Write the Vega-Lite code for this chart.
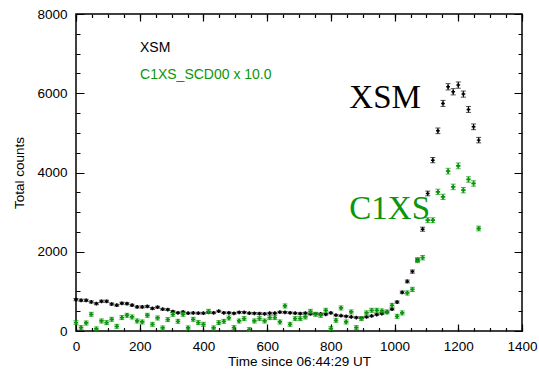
{
  "$schema": "https://vega.github.io/schema/vega-lite/v6.json",
  "width": 446,
  "height": 317,
  "autosize": {"type": "none"},
  "padding": {"left": 76, "top": 14, "right": 17, "bottom": 38},
  "background": "white",
  "config": {
    "view": {"stroke": "black", "strokeWidth": 1.5, "fill": "transparent"},
    "axis": {
      "labelFont": "Liberation Sans",
      "labelFontSize": 13.5,
      "labelColor": "black",
      "titleFont": "Liberation Sans",
      "titleFontSize": 13.5,
      "titleFontWeight": "normal",
      "titleColor": "black",
      "ticks": false,
      "domain": false,
      "gridColor": "black",
      "gridOpacity": 1,
      "gridWidth": 1.2,
      "labelOverlap": false,
      "labelFlush": false,
      "format": "d",
      "zindex": 1
    }
  },
  "data": {
    "values": [
      {"t": 0, "xsm": 792, "xe": 28, "c1xs": 211, "ce": 50},
      {"t": 16, "xsm": 775, "xe": 28, "c1xs": 85, "ce": 50},
      {"t": 32, "xsm": 775, "xe": 28, "c1xs": 203, "ce": 50},
      {"t": 48, "xsm": 733, "xe": 27, "c1xs": 422, "ce": 50},
      {"t": 64, "xsm": 691, "xe": 26, "c1xs": 52, "ce": 50},
      {"t": 80, "xsm": 750, "xe": 27, "c1xs": 253, "ce": 50},
      {"t": 96, "xsm": 750, "xe": 27, "c1xs": 211, "ce": 50},
      {"t": 112, "xsm": 680, "xe": 26, "c1xs": 296, "ce": 50},
      {"t": 128, "xsm": 650, "xe": 25, "c1xs": 119, "ce": 50},
      {"t": 144, "xsm": 700, "xe": 26, "c1xs": 338, "ce": 50},
      {"t": 160, "xsm": 690, "xe": 26, "c1xs": 397, "ce": 50},
      {"t": 176, "xsm": 650, "xe": 25, "c1xs": 354, "ce": 50},
      {"t": 192, "xsm": 607, "xe": 25, "c1xs": 253, "ce": 50},
      {"t": 208, "xsm": 607, "xe": 25, "c1xs": 228, "ce": 50},
      {"t": 224, "xsm": 620, "xe": 25, "c1xs": 397, "ce": 50},
      {"t": 240, "xsm": 570, "xe": 24, "c1xs": 169, "ce": 50},
      {"t": 256, "xsm": 600, "xe": 24, "c1xs": 329, "ce": 50},
      {"t": 272, "xsm": 550, "xe": 23, "c1xs": 77, "ce": 50},
      {"t": 288, "xsm": 540, "xe": 23, "c1xs": 287, "ce": 50},
      {"t": 304, "xsm": 490, "xe": 22, "c1xs": 422, "ce": 50},
      {"t": 320, "xsm": 460, "xe": 21, "c1xs": 245, "ce": 50},
      {"t": 336, "xsm": 480, "xe": 22, "c1xs": 422, "ce": 50},
      {"t": 352, "xsm": 450, "xe": 21, "c1xs": 77, "ce": 50},
      {"t": 368, "xsm": 455, "xe": 21, "c1xs": 296, "ce": 50},
      {"t": 384, "xsm": 450, "xe": 21, "c1xs": 211, "ce": 50},
      {"t": 400, "xsm": 450, "xe": 21, "c1xs": 169, "ce": 50},
      {"t": 416, "xsm": 470, "xe": 22, "c1xs": 497, "ce": 50},
      {"t": 432, "xsm": 460, "xe": 21, "c1xs": 77, "ce": 50},
      {"t": 448, "xsm": 500, "xe": 22, "c1xs": 211, "ce": 50},
      {"t": 464, "xsm": 460, "xe": 21, "c1xs": 245, "ce": 50},
      {"t": 480, "xsm": 460, "xe": 21, "c1xs": 329, "ce": 50},
      {"t": 496, "xsm": 445, "xe": 21, "c1xs": 85, "ce": 50},
      {"t": 512, "xsm": 470, "xe": 22, "c1xs": 253, "ce": 50},
      {"t": 528, "xsm": 470, "xe": 22, "c1xs": 312, "ce": 50},
      {"t": 544, "xsm": 450, "xe": 21, "c1xs": 35, "ce": 50},
      {"t": 560, "xsm": 445, "xe": 21, "c1xs": 253, "ce": 50},
      {"t": 576, "xsm": 440, "xe": 21, "c1xs": 312, "ce": 50},
      {"t": 592, "xsm": 435, "xe": 21, "c1xs": 253, "ce": 50},
      {"t": 608, "xsm": 450, "xe": 21, "c1xs": 338, "ce": 50},
      {"t": 624, "xsm": 450, "xe": 21, "c1xs": 338, "ce": 50},
      {"t": 640, "xsm": 475, "xe": 22, "c1xs": 228, "ce": 50},
      {"t": 656, "xsm": 470, "xe": 22, "c1xs": 632, "ce": 50},
      {"t": 672, "xsm": 460, "xe": 21, "c1xs": 169, "ce": 50},
      {"t": 688, "xsm": 450, "xe": 21, "c1xs": 312, "ce": 50},
      {"t": 704, "xsm": 440, "xe": 21, "c1xs": 312, "ce": 50},
      {"t": 720, "xsm": 450, "xe": 21, "c1xs": 354, "ce": 50},
      {"t": 736, "xsm": 430, "xe": 21, "c1xs": 497, "ce": 50},
      {"t": 752, "xsm": 435, "xe": 21, "c1xs": 422, "ce": 50},
      {"t": 768, "xsm": 430, "xe": 21, "c1xs": 397, "ce": 50},
      {"t": 784, "xsm": 420, "xe": 20, "c1xs": 523, "ce": 50},
      {"t": 800, "xsm": 455, "xe": 21, "c1xs": 60, "ce": 50},
      {"t": 816, "xsm": 400, "xe": 20, "c1xs": 270, "ce": 50},
      {"t": 832, "xsm": 385, "xe": 20, "c1xs": 582, "ce": 50},
      {"t": 848, "xsm": 370, "xe": 19, "c1xs": 228, "ce": 50},
      {"t": 864, "xsm": 355, "xe": 19, "c1xs": 481, "ce": 50},
      {"t": 880, "xsm": 340, "xe": 18, "c1xs": 85, "ce": 50},
      {"t": 896, "xsm": 330, "xe": 18, "c1xs": 312, "ce": 50},
      {"t": 912, "xsm": 355, "xe": 19, "c1xs": 456, "ce": 50},
      {"t": 928, "xsm": 380, "xe": 19, "c1xs": 523, "ce": 50},
      {"t": 944, "xsm": 415, "xe": 20, "c1xs": 523, "ce": 50},
      {"t": 960, "xsm": 440, "xe": 21, "c1xs": 506, "ce": 50},
      {"t": 976, "xsm": 480, "xe": 22, "c1xs": 481, "ce": 50},
      {"t": 992, "xsm": 550, "xe": 23, "c1xs": 649, "ce": 50},
      {"t": 1008, "xsm": 730, "xe": 27, "c1xs": 371, "ce": 50},
      {"t": 1024, "xsm": 975, "xe": 31, "c1xs": 456, "ce": 50},
      {"t": 1040, "xsm": 1250, "xe": 35, "c1xs": 960, "ce": 52},
      {"t": 1056, "xsm": 1500, "xe": 39, "c1xs": 1050, "ce": 53},
      {"t": 1072, "xsm": 1800, "xe": 42, "c1xs": 1780, "ce": 56},
      {"t": 1088, "xsm": 2569, "xe": 51, "c1xs": 1850, "ce": 56},
      {"t": 1104, "xsm": 3471, "xe": 59, "c1xs": 2796, "ce": 62},
      {"t": 1120, "xsm": 4312, "xe": 66, "c1xs": 2796, "ce": 62},
      {"t": 1136, "xsm": 5052, "xe": 71, "c1xs": 3511, "ce": 68},
      {"t": 1152, "xsm": 5744, "xe": 76, "c1xs": 3385, "ce": 67},
      {"t": 1168, "xsm": 6163, "xe": 79, "c1xs": 4034, "ce": 72},
      {"t": 1184, "xsm": 6037, "xe": 78, "c1xs": 3637, "ce": 69},
      {"t": 1200, "xsm": 6206, "xe": 79, "c1xs": 4168, "ce": 73},
      {"t": 1216, "xsm": 5979, "xe": 77, "c1xs": 3554, "ce": 68},
      {"t": 1232, "xsm": 5592, "xe": 75, "c1xs": 3824, "ce": 70},
      {"t": 1248, "xsm": 5153, "xe": 72, "c1xs": 3723, "ce": 69},
      {"t": 1264, "xsm": 4817, "xe": 69, "c1xs": 2587, "ce": 60}
    ]
  },
  "resolve": {"scale": {"x": "independent", "y": "independent"}, "axis": {"x": "independent", "y": "independent"}},
  "layer": [
    {
      "mark": {"type": "errorbar", "color": "black", "thickness": 1, "ticks": {"size": 5, "thickness": 1, "color": "black"}},
      "encoding": {
        "x": {"field": "t", "type": "quantitative", "scale": {"domain": [0, 1400], "nice": false, "zero": false},
          "axis": {"orient": "bottom", "values": [0, 200, 400, 600, 800, 1000, 1200, 1400], "grid": true, "gridDash": [7, 303, 7, 1000], "labelPadding": 8, "title": "Time since 06:44:29 UT", "titlePadding": 2}},
        "y": {"field": "xsm", "type": "quantitative", "scale": {"domain": [0, 8000], "nice": false, "zero": false},
          "axis": {"orient": "left", "values": [0, 2000, 4000, 6000, 8000], "grid": true, "gridDash": [8, 430, 8, 1000], "labelPadding": 9, "title": "Total counts", "titlePadding": 10}},
        "yError": {"field": "xe"}
      }
    },
    {
      "mark": {"type": "point", "shape": "cross", "filled": true, "size": 14, "color": "black", "opacity": 1},
      "encoding": {
        "x": {"field": "t", "type": "quantitative", "scale": {"domain": [0, 1400], "nice": false, "zero": false},
          "axis": {"orient": "top", "values": [0, 50, 100, 150, 200, 250, 300, 350, 400, 450, 500, 550, 600, 650, 700, 750, 800, 850, 900, 950, 1000, 1050, 1100, 1150, 1200, 1250, 1300, 1350, 1400], "grid": true, "gridDash": [3.5, 310, 3.5, 1000], "labelExpr": "''", "title": ""}},
        "y": {"field": "xsm", "type": "quantitative", "scale": {"domain": [0, 8000], "nice": false, "zero": false},
          "axis": {"orient": "right", "values": [0, 500, 1000, 1500, 2000, 2500, 3000, 3500, 4000, 4500, 5000, 5500, 6000, 6500, 7000, 7500, 8000], "grid": true, "gridDash": [4, 438, 4, 1000], "labelExpr": "''", "title": ""}}
      }
    },
    {
      "mark": {"type": "errorbar", "color": "#0a960a", "thickness": 1, "ticks": {"size": 5, "thickness": 1, "color": "#0a960a"}},
      "encoding": {
        "x": {"field": "t", "type": "quantitative", "scale": {"domain": [0, 1400], "nice": false, "zero": false}, "axis": null},
        "y": {"field": "c1xs", "type": "quantitative", "scale": {"domain": [0, 8000], "nice": false, "zero": false}, "axis": null},
        "yError": {"field": "ce"}
      }
    },
    {
      "mark": {"type": "point", "shape": "cross", "filled": true, "size": 20, "color": "#0a960a", "opacity": 1},
      "encoding": {
        "x": {"field": "t", "type": "quantitative", "scale": {"domain": [0, 1400], "nice": false, "zero": false}, "axis": null},
        "y": {"field": "c1xs", "type": "quantitative", "scale": {"domain": [0, 8000], "nice": false, "zero": false}, "axis": null}
      }
    },
    {
      "data": {"values": [{}]},
      "mark": {"type": "text", "text": "XSM", "align": "left", "baseline": "middle", "font": "Liberation Sans", "fontSize": 14, "color": "black"},
      "encoding": {
        "x": {"datum": 201, "type": "quantitative", "scale": {"domain": [0, 1400], "nice": false, "zero": false}, "axis": null},
        "y": {"datum": 7141, "type": "quantitative", "scale": {"domain": [0, 8000], "nice": false, "zero": false}, "axis": null}
      }
    },
    {
      "data": {"values": [{}]},
      "mark": {"type": "text", "text": "C1XS_SCD00 x 10.0", "align": "left", "baseline": "middle", "font": "Liberation Sans", "fontSize": 14, "color": "#0a960a"},
      "encoding": {
        "x": {"datum": 201, "type": "quantitative", "scale": {"domain": [0, 1400], "nice": false, "zero": false}, "axis": null},
        "y": {"datum": 6459, "type": "quantitative", "scale": {"domain": [0, 8000], "nice": false, "zero": false}, "axis": null}
      }
    },
    {
      "data": {"values": [{}]},
      "mark": {"type": "text", "text": "XSM", "align": "left", "baseline": "alphabetic", "font": "Liberation Serif", "fontSize": 33, "color": "black"},
      "encoding": {
        "x": {"datum": 858, "type": "quantitative", "scale": {"domain": [0, 1400], "nice": false, "zero": false}, "axis": null},
        "y": {"datum": 5625, "type": "quantitative", "scale": {"domain": [0, 8000], "nice": false, "zero": false}, "axis": null}
      }
    },
    {
      "data": {"values": [{}]},
      "mark": {"type": "text", "text": "C1XS", "align": "left", "baseline": "alphabetic", "font": "Liberation Serif", "fontSize": 33, "color": "#0a960a"},
      "encoding": {
        "x": {"datum": 858, "type": "quantitative", "scale": {"domain": [0, 1400], "nice": false, "zero": false}, "axis": null},
        "y": {"datum": 2821, "type": "quantitative", "scale": {"domain": [0, 8000], "nice": false, "zero": false}, "axis": null}
      }
    }
  ]
}
